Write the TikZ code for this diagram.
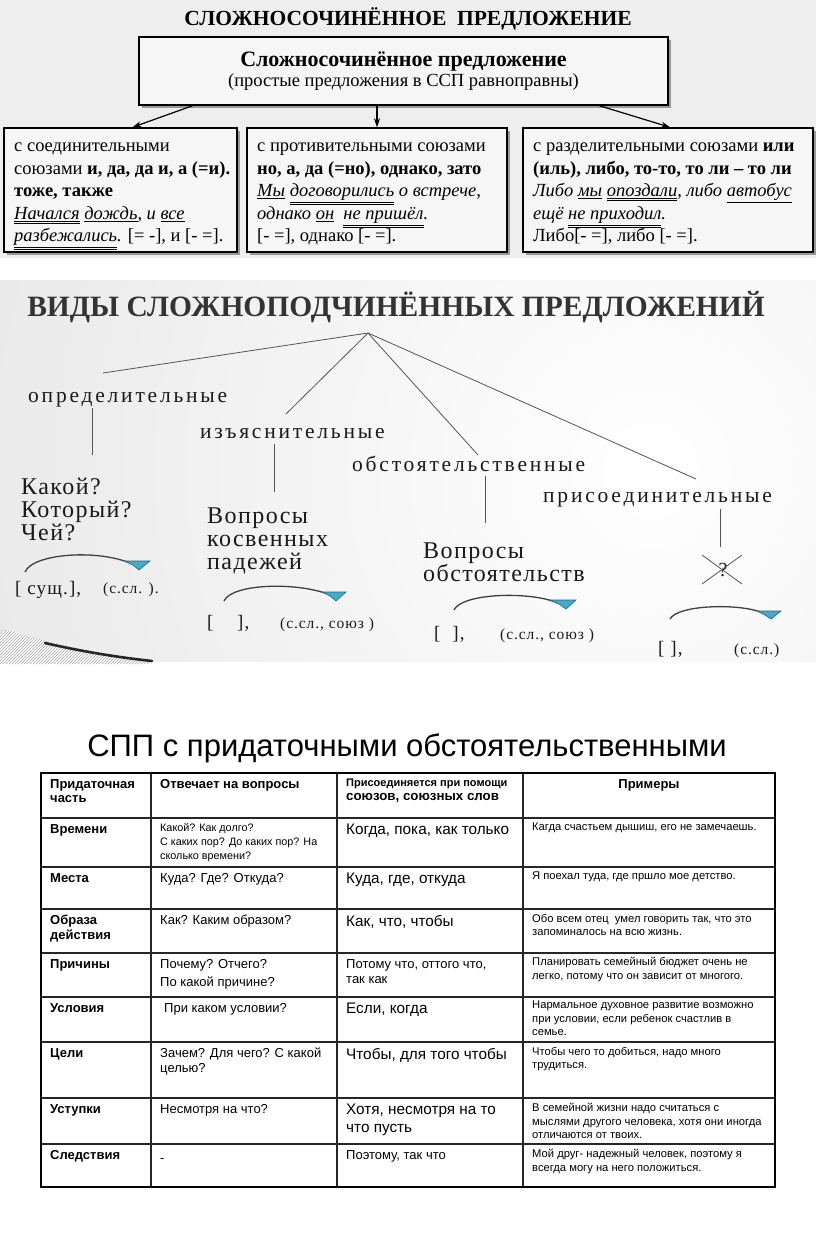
\documentclass[tikz,border=0pt]{standalone}
\usepackage{fontspec}
\setmainfont{Liberation Serif}
\newfontfamily\sansf{Liberation Sans}
\newfontfamily\lspa{Liberation Serif}[LetterSpace=13]
\newfontfamily\lspb{Liberation Serif}[LetterSpace=6]
\usetikzlibrary{arrows.meta,patterns,shadows,calc}
\newcommand{\sul}[1]{$\underline{\hbox{#1}}$}
\newcommand{\dul}[1]{$\underline{\underline{\hbox{#1}}}$}
\definecolor{tealA}{RGB}{70,170,200}
\definecolor{tealB}{RGB}{30,105,135}
\definecolor{bgone}{RGB}{238,238,238}
\definecolor{boxfill}{RGB}{246,246,246}
\definecolor{lineg}{RGB}{85,85,85}
\begin{document}
\begin{tikzpicture}[x=1pt,y=-1pt,
  sbox/.style={draw=black, line width=1.5pt, fill=boxfill, inner sep=0pt,
    drop shadow={shadow xshift=2.5pt, shadow yshift=-2.5pt, fill=gray!80, opacity=1}},
  conn/.style={line width=1.2pt, -{Stealth[length=9pt,width=6pt]}},
  btext/.style={anchor=north west, align=left, inner sep=0pt, font=\fontsize{18.5}{22.5}\selectfont},
  tline/.style={lineg, line width=0.8pt},
  lab/.style={anchor=base west, inner sep=0pt, font=\lspa\fontsize{21.5}{24}\selectfont, text=black!90},
  qtext/.style={anchor=north west, align=left, inner sep=0pt, font=\lspb\fontsize{24}{23}\selectfont, text=black!90},
  brk/.style={anchor=base west, inner sep=0pt, font=\lspb\fontsize{19}{20}\selectfont, text=black!90},
  brks/.style={anchor=base west, inner sep=0pt, font=\lspb\fontsize{15.5}{18}\selectfont, text=black!90},
  arcl/.style={black!75, line width=1.3pt},
  ahead/.style={fill=tealA, draw=tealB, line width=0.6pt},
  cell/.style={anchor=north west, align=left, inner sep=0pt},
  hd/.style={cell, font=\sansf\bfseries\fontsize{13}{14.5}\selectfont},
  qq/.style={cell, font=\sansf\fontsize{13}{17}\selectfont},
  qs/.style={cell, font=\sansf\fontsize{10.8}{14}\selectfont},
  cj/.style={cell, font=\sansf\fontsize{15.3}{18}\selectfont},
  cjs/.style={cell, font=\sansf\fontsize{13}{15}\selectfont},
  ex/.style={cell, font=\sansf\fontsize{11.2}{13.5}\selectfont},
  tgrid/.style={line width=1.2pt, black!85}
]
\useasboundingbox (0,0) rectangle (816,1243);
\fill[white] (0,0) rectangle (816,1243);

% ---------------- section 1
\fill[bgone] (0,0) rectangle (816,258);
\node[anchor=base, inner sep=0pt, font=\bfseries\fontsize{21.5}{24}\selectfont] (t1) at (408,25) {СЛОЖНОСОЧИНЁННОЕ\ \ ПРЕДЛОЖЕНИЕ};
\node[sbox, minimum width=529pt, minimum height=68pt, align=center] (main) at (403.5,71)
  {{\bfseries\fontsize{22}{24}\selectfont Сложносочинённое предложение}\\[1pt]{\fontsize{18.5}{22}\selectfont (простые предложения в ССП равноправны)}};
\node[sbox, minimum width=233pt, minimum height=124pt] (boxA) at (120.5,190) {};
\node[sbox, minimum width=260pt, minimum height=124pt] (boxB) at (377,190) {};
\node[sbox, minimum width=290pt, minimum height=124pt] (boxC) at (668,190) {};
\draw[conn] ([xshift=-211pt]main.south) -- ([xshift=12pt]boxA.north);
\draw[conn] (boxB.north |- main.south) -- (boxB.north);
\draw[conn] ([xshift=196pt]main.south) -- ([xshift=2pt]boxC.north);

\node[btext] (tA) at (14,143) {с соединительными\\
союзами \textbf{и, да, да и, а (=и).}\\
\textbf{тоже, также}\\
{\itshape \dul{Начался} \sul{дождь}, и \sul{все}}\\
{\itshape \dul{разбежались}.} {[}= -], и [- =].};
\node[btext] (tB) at (257,143) {с противительными союзами\\
\textbf{но, а, да (=но), однако, зато}\\
{\itshape \sul{Мы} \dul{договорились} о встрече,}\\
{\itshape однако \sul{он}\ \ \dul{не пришёл}.}\\
{[}- =], однако [- =].};
\node[btext] (tC) at (533,143) {с разделительными союзами \textbf{или}\\
\textbf{(иль), либо, то-то, то ли – то ли}\\
{\itshape Либо \sul{мы} \dul{опоздали}, либо \sul{автобус}}\\
{\itshape ещё \dul{не приходил}.}\\
Либо{[}- =], либо [- =].};

% ---------------- section 2
\begin{scope}
\clip (0,280) -- (816,280) -- (816,662) -- (150,662) .. controls (90,653) and (40,640) .. (0,628) -- cycle;
\fill[gray!24] (0,280) rectangle (816,662);
\shade[inner color=white, outer color=gray!24] (650,470) circle (980);
\end{scope}
\fill[white] (0,628) .. controls (40,640) and (90,653) .. (150,662) -- (150,666) -- (0,666) -- cycle;
\fill[pattern=north east lines, pattern color=gray!70] (0,628) .. controls (40,640) and (90,653) .. (150,662) -- (150,664) -- (0,664) -- cycle;
\draw[black!85, line width=2.6pt, line cap=round] (45,643) .. controls (80,651) and (115,657) .. (152,661);

\node[anchor=base, inner sep=0pt, font=\bfseries\fontsize{29.5}{30}\selectfont, text=black!80] (t2) at (396,316) {ВИДЫ СЛОЖНОПОДЧИНЁННЫХ ПРЕДЛОЖЕНИЙ};
\coordinate (apex) at (368,333);
\node[lab] (def) at (28,402) {определительные};
\node[lab] (izj) at (200,438) {изъяснительные};
\node[lab] (obs) at (352,471) {обстоятельственные};
\node[lab] (pri) at (543,502) {присоединительные};
\coordinate (e1) at (103,373);
\coordinate (e2) at (286,414);
\coordinate (e3) at (478,455);
\coordinate (e4) at (696,479);
\draw[tline] (apex) -- (e1);
\draw[tline] (apex) -- (e2);
\draw[tline] (apex) -- (e3);
\draw[tline] (apex) -- (e4);
\coordinate (v1a) at (92,408); \coordinate (v1b) at (92,455);
\coordinate (v2a) at (274,444); \coordinate (v2b) at (274,492);
\coordinate (v3a) at (485,476); \coordinate (v3b) at (485,523);
\coordinate (v4a) at (720,509); \coordinate (v4b) at (720,547);
\draw[tline, line width=1pt] (v1a) -- (v1b);
\draw[tline, line width=1pt] (v2a) -- (v2b);
\draw[tline, line width=1pt] (v3a) -- (v3b);
\draw[tline, line width=1pt] (v4a) -- (v4b);

\node[qtext] (q1) at (21,478) {Какой?\\Который?\\Чей?};
\node[qtext] (q2) at (207,508) {Вопросы\\косвенных\\падежей};
\node[qtext] (q3) at (423,543) {Вопросы\\обстоятельств};
% crossed question mark
\node[inner sep=0pt, font=\fontsize{20}{20}\selectfont, text=black!90] (qm) at (723,570) {?};
\draw[tline] (702,555) -- (742,584);
\draw[tline] (702,584) -- (742,555);

% arcs
\draw[arcl] (25,572) .. controls (33,553) and (100,549) .. (132,564);
\fill[ahead] (125,561) -- (150,561) -- (139,570) -- (133,565) -- cycle;
\draw[arcl] (224,601) .. controls (232,583) and (300,582) .. (330,595);
\fill[ahead] (322,592) -- (346,592) -- (336,601) -- (330,596) -- cycle;
\draw[arcl] (454,610) .. controls (462,593) and (530,591) .. (558,603);
\fill[ahead] (550,600) -- (576,600) -- (566,609) -- (559,604) -- cycle;
\draw[arcl] (670,619) .. controls (678,604) and (745,603) .. (765,614);
\fill[ahead] (757,611) -- (781,611) -- (771,619) -- (765,615) -- cycle;

\node[brk] (b1) at (15,594) {[ сущ.],};
\node[brks] (c1) at (103,593) {(с.сл. ).};
\node[brk] (b2) at (207,628) {[\ \ \ \ ],};
\node[brks] (c2) at (280,628) {(с.сл., союз )};
\node[brk] (b3) at (434,639) {[\ \ ],};
\node[brks] (c3) at (500,639) {(с.сл., союз )};
\node[brk] (b4) at (658,654) {[ ],};
\node[brks] (c4) at (734,654) {(с.сл.)};

% ---------------- section 3
\node[anchor=base, inner sep=0pt, font=\sansf\fontsize{31}{34}\selectfont] (t3) at (407,756) {СПП с придаточными обстоятельственными};
\foreach \yy in {818,867,909,953,997,1042,1098,1144} \draw[tgrid] (41,\yy) -- (775,\yy);
\foreach \xx in {151,337,523} \draw[tgrid] (\xx,773) -- (\xx,1187);
\draw[line width=2.6pt] (41,773) rectangle (775,1187);

\node[hd] (h1) at (50,779) {Придаточная\\часть};
\node[hd] (h2) at (160,779) {Отвечает на вопросы};
\node[cell, font=\sansf\bfseries\fontsize{11}{14}\selectfont] (h3) at (346,779) {Присоединяется при помощи\\{\fontsize{13.3}{15}\selectfont союзов, союзных слов}};
\node[hd, anchor=north] (h4) at (649,779) {Примеры};

\node[hd] (r1a) at (50,824) {Времени};
\node[qs] (r1b) at (160,823) {Какой? Как долго?\\С каких пор? До каких пор? На\\сколько времени?};
\node[cj] (r1c) at (346,824) {Когда, пока, как только};
\node[ex] (r1d) at (532,823) {Кагда счастьем дышиш, его не замечаешь.};

\node[hd] (r2a) at (50,873) {Места};
\node[qq] (r2b) at (160,873) {Куда? Где? Откуда?};
\node[cj] (r2c) at (346,873) {Куда, где, откуда};
\node[ex] (r2d) at (532,872) {Я поехал туда, где пршло мое детство.};

\node[hd, font=\sansf\bfseries\fontsize{13}{15}\selectfont] (r3a) at (50,915) {Образа\\действия};
\node[qq] (r3b) at (160,915) {Как? Каким образом?};
\node[cj] (r3c) at (346,915) {Как, что, чтобы};
\node[ex] (r3d) at (532,914) {Обо всем отец\ \ умел говорить так, что это\\запоминалось на всю жизнь.};

\node[hd] (r4a) at (50,959) {Причины};
\node[qq, font=\sansf\fontsize{13}{18}\selectfont] (r4b) at (160,959) {Почему? Отчего?\\По какой причине?};
\node[cjs] (r4c) at (346,959) {Потому что, оттого что,\\так как};
\node[ex] (r4d) at (532,957) {Планировать семейный бюджет очень не\\легко, потому что он зависит от многого.};

\node[hd] (r5a) at (50,1003) {Условия};
\node[qq] (r5b) at (164,1003) {При каком условии?};
\node[cj] (r5c) at (346,1003) {Если, когда};
\node[ex] (r5d) at (532,1001) {Нармальное духовное развитие возможно\\при условии, если ребенок счастлив в\\семье.};

\node[hd] (r6a) at (50,1048) {Цели};
\node[qq, font=\sansf\fontsize{13}{15}\selectfont] (r6b) at (160,1048) {Зачем? Для чего? С какой\\целью?};
\node[cj] (r6c) at (346,1048) {Чтобы, для того чтобы};
\node[ex] (r6d) at (532,1047) {Чтобы чего то добиться, надо много\\трудиться.};

\node[hd] (r7a) at (50,1104) {Уступки};
\node[qq] (r7b) at (160,1104) {Несмотря на что?};
\node[cj] (r7c) at (346,1104) {Хотя, несмотря на то\\что пусть};
\node[ex] (r7d) at (532,1103) {В семейной жизни надо считаться с\\мыслями другого человека, хотя они иногда\\отличаются от твоих.};

\node[hd] (r8a) at (50,1150) {Следствия};
\node[qq, anchor=base west] (r8b) at (160,1162) {-};
\node[cjs] (r8c) at (346,1150) {Поэтому, так что};
\node[ex] (r8d) at (532,1149) {Мой друг- надежный человек, поэтому я\\всегда могу на него положиться.};
\end{tikzpicture}
\end{document}
